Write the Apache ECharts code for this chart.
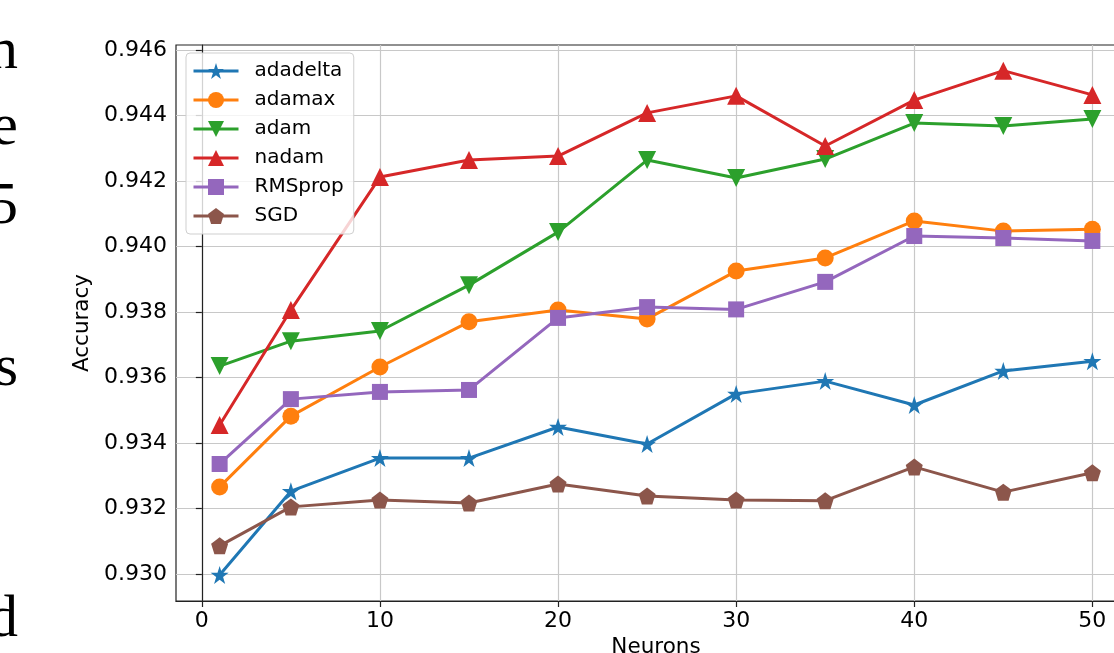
<!DOCTYPE html>
<html>
<head>
<meta charset="utf-8">
<title>Accuracy vs Neurons</title>
<script src="https://cdn.jsdelivr.net/npm/echarts@6/dist/echarts.min.js"></script>
<style>
    html, body {
        margin: 0;
        padding: 0;
        background: #fff;
    }
    #chart {
        width: 1114px;
        height: 653px;
    }
</style>
</head>
<body>
<div id="chart"></div>
<script>
    // 数据
    var neurons = [1, 5, 10, 15, 20, 25, 30, 35, 40, 45, 50];
    var adadelta = [0.92997, 0.93253, 0.93354, 0.93354, 0.93449, 0.93397, 0.93550, 0.93589, 0.93516, 0.93620, 0.93650];
    var adamax = [0.93266, 0.93482, 0.93632, 0.93770, 0.93806, 0.93779, 0.93925, 0.93965, 0.94078, 0.94047, 0.94053];
    var adam = [0.93635, 0.93711, 0.93742, 0.93882, 0.94044, 0.94264, 0.94209, 0.94267, 0.94377, 0.94368, 0.94389];
    var nadam = [0.93455, 0.93806, 0.94212, 0.94264, 0.94276, 0.94408, 0.94460, 0.94307, 0.94447, 0.94537, 0.94463];
    var rmsprop = [0.93336, 0.93534, 0.93556, 0.93562, 0.93782, 0.93815, 0.93808, 0.93892, 0.94032, 0.94026, 0.94017];
    var sgd = [0.93086, 0.93205, 0.93226, 0.93217, 0.93275, 0.93238, 0.93226, 0.93224, 0.93327, 0.93250, 0.93309];

    var xTicks = [0, 10, 20, 30, 40, 50];
    var yTicks = [0.930, 0.932, 0.934, 0.936, 0.938, 0.940, 0.942, 0.944, 0.946];

    // 左侧被裁掉的正文字母
    var sideLetters = ['n', 'e', '5', 's', 'd'];
    var sideLetterY = [52, 128, 207, 369, 620];

    var STAR = 'path://M50,0 L61.2,34.5 L97.6,34.5 L68.2,55.9 L79.4,90.5 L50,69.1 L20.6,90.5 L31.8,55.9 L2.4,34.5 L38.8,34.5 Z';
    var PENTAGON = 'path://M50,0 L97.6,34.5 L79.4,90.5 L20.6,90.5 L2.4,34.5 Z';
    var TRI_DOWN = 'path://M0,0 L100,0 L50,86 Z';
    var TRI_UP = 'path://M50,0 L100,86 L0,86 Z';

    var chartView = echarts.init(document.getElementById('chart'));

    function makeSeries(name, values, color, symbol, size) {
        return {
            name: name,
            type: 'line',
            data: neurons.map(function (n, i) {
                return [n, values[i]];
            }),
            symbol: symbol,
            symbolSize: size,
            showSymbol: true,
            showAllSymbol: true,
            lineStyle: {color: color, width: 3},
            itemStyle: {color: color, borderWidth: 0},
            emphasis: {disabled: true},
            z: 3
        };
    }

    var fontFamily = '"DejaVu Sans", sans-serif';

    var option = {
        animation: false,
        backgroundColor: '#fff',
        grid: {
            left: 176,
            top: 45,
            width: 960,
            height: 556,
            outerBoundsMode: 'none',
            show: true,
            borderColor: '#222',
            borderWidth: 1.2,
            backgroundColor: 'transparent'
        },
        legend: {
            orient: 'vertical',
            left: 186,
            top: 53,
            itemWidth: 45,
            itemHeight: 20,
            itemGap: 9,
            padding: [8, 10, 8, 6],
            backgroundColor: 'rgba(255,255,255,0.8)',
            borderColor: '#cfcfcf',
            borderWidth: 1,
            borderRadius: 4,
            lineStyle: {width: 3},
            textStyle: {
                fontFamily: fontFamily,
                fontSize: 20,
                color: '#000',
                padding: [0, 0, 0, 11]
            },
            data: ['adadelta', 'adamax', 'adam', 'nadam', 'RMSprop', 'SGD']
        },
        xAxis: {
            type: 'value',
            min: -1.45,
            max: 52.45,
            name: 'Neurons',
            nameLocation: 'middle',
            nameGap: 32,
            nameTextStyle: {fontFamily: fontFamily, fontSize: 21.5, color: '#000'},
            axisLine: {show: true, lineStyle: {color: '#222', width: 1.2}},
            axisTick: {show: true, customValues: xTicks, length: 6, lineStyle: {color: '#222', width: 1.2}},
            axisLabel: {
                customValues: xTicks,
                margin: 9,
                fontFamily: fontFamily,
                fontSize: 22,
                color: '#000'
            },
            splitLine: {show: true, lineStyle: {color: '#c8c8c8', width: 1.2}}
        },
        yAxis: {
            type: 'value',
            min: 0.929176,
            max: 0.946153,
            name: 'Accuracy',
            nameLocation: 'middle',
            nameRotate: 90,
            nameGap: 81,
            nameTextStyle: {fontFamily: fontFamily, fontSize: 21.5, color: '#000'},
            axisLine: {show: true, lineStyle: {color: '#222', width: 1.2}},
            axisTick: {show: true, customValues: yTicks, length: 6, lineStyle: {color: '#222', width: 1.2}},
            axisLabel: {
                customValues: yTicks,
                margin: 9,
                fontFamily: fontFamily,
                fontSize: 22,
                color: '#000',
                formatter: function (v) {
                    return v.toFixed(3);
                }
            },
            splitLine: {show: true, lineStyle: {color: '#c8c8c8', width: 1.2}}
        },
        graphic: sideLetters.map(function (ch, i) {
            return {
                type: 'text',
                x: 18,
                y: sideLetterY[i],
                style: {
                    text: ch,
                    font: '60px "Liberation Serif", "Times New Roman", serif',
                    fill: '#000',
                    align: 'right',
                    verticalAlign: 'middle'
                }
            };
        }),
        series: [
            makeSeries('adadelta', adadelta, '#1f77b4', STAR, 18),
            makeSeries('adamax', adamax, '#ff7f0e', 'circle', 17),
            makeSeries('adam', adam, '#2ca02c', TRI_DOWN, 18),
            makeSeries('nadam', nadam, '#d62728', TRI_UP, 18),
            makeSeries('RMSprop', rmsprop, '#9467bd', 'rect', 16),
            makeSeries('SGD', sgd, '#8c564b', PENTAGON, 17)
        ]
    };

    chartView.setOption(option);
</script>
</body>
</html>
